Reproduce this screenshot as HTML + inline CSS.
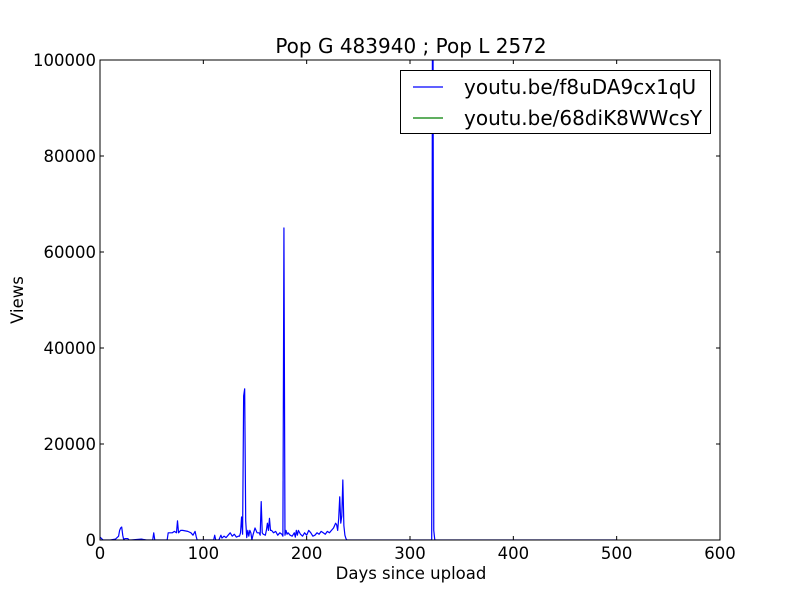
<!DOCTYPE html>
<html><head><meta charset="utf-8"><style>
body{margin:0;background:#fff;}
svg{display:block;font-family:"DejaVu Sans","Liberation Sans",sans-serif;}
</style></head><body>
<svg id="chart" width="800" height="600"></svg>
<script>
const blueDays = [0,1,2,3,5,10,15,18,19,20,21,22,23,24,27,28,30,40,42,45,50,51,52,53,55,65,66,70,72,74,75,76,78,80,85,88,90,92,93,94,96,105,108,110,111,112,115,117,118,120,122,124,126,128,130,132,134,135,136,137,138,139,140,141,142,143,144,145,146,147,148,150,152,154,155,156,157,158,160,161,162,163,164,165,166,168,170,172,174,176,177,178,179,180,181,182,184,186,188,189,190,191,192,194,196,198,200,202,204,206,208,210,212,214,216,218,220,222,224,226,227,228,229,230,231,232,233,234,235,236,237,238,239,240,245,300,320,321,322,323,324,325,330,400,500];
const blueValues = [600,400,200,0,0,0,200,800,2000,2500,2700,1000,0,300,300,0,0,200,100,0,0,0,1500,0,0,0,1500,1500,1800,1500,4000,1500,2000,2000,1800,1500,1000,1800,800,0,0,0,0,0,1000,0,0,1000,400,800,500,1000,1500,800,1200,600,800,800,1500,4800,1200,30000,31500,4000,500,2000,800,2000,1500,0,1000,2500,1500,1500,1000,8000,1500,1200,1000,2000,3500,2000,4500,2000,2000,1500,1800,1000,1500,1200,800,65000,1000,2000,1200,1500,1000,800,1500,600,2000,1000,2000,1200,800,1500,1000,2000,1500,800,1000,1500,1200,1800,1500,1200,1800,1500,2000,2500,3000,3500,3200,2000,4500,9000,3500,5000,12500,3000,1000,300,0,0,0,0,0,0,150000,2000,0,0,0,0,0];
const greenDays = [0,505];
const greenValues = [0,0];
const xTicks = [0,100,200,300,400,500,600];
const yTicks = [0,20000,40000,60000,80000,100000];

const svg = document.getElementById('chart');
const NS = 'http://www.w3.org/2000/svg';
const L=100,R=720,T=60,B=540;
const xs = d => L + (d/600)*(R-L);
const ys = v => B - (v/100000)*(B-T);
function mk(tag, attrs, parent){const e=document.createElementNS(NS,tag);for(const k in attrs)e.setAttribute(k,attrs[k]);(parent||svg).appendChild(e);return e;}

const clip = mk('clipPath',{id:'pc'});
mk('rect',{x:L,y:T,width:R-L,height:B-T},clip);

const g = mk('g',{'clip-path':'url(#pc)'});


const gl = mk('polyline',{points:greenDays.map((d,i)=>xs(d)+','+ys(greenValues[i])).join(' '),fill:'none',stroke:'#007f00','stroke-width':1},g);


const bl = mk('polyline',{points:blueDays.map((d,i)=>xs(d)+','+ys(blueValues[i])).join(' '),fill:'none',stroke:'#0000ff','stroke-width':1.2,'stroke-linejoin':'round'},g);



const frame = mk('rect',{x:L,y:T,width:R-L,height:B-T,fill:'none',stroke:'#000','stroke-width':1});



xTicks.forEach(t=>{
  const x=xs(t);
  mk('line',{x1:x,x2:x,y1:B,y2:B-4,stroke:'#000'});
  mk('line',{x1:x,x2:x,y1:T,y2:T+4,stroke:'#000'});
  const tx=mk('text',{x:x,y:B+19,'text-anchor':'middle','font-size':16.5});
  tx.textContent=t;
  
  
});
yTicks.forEach(t=>{
  const y=ys(t);
  mk('line',{x1:L,x2:L+4,y1:y,y2:y,stroke:'#000'});
  mk('line',{x1:R,x2:R-4,y1:y,y2:y,stroke:'#000'});
  const tx=mk('text',{x:L-4,y:y+6,'text-anchor':'end','font-size':16.5});
  tx.textContent=t;
  
  
});

const title=mk('text',{x:411,y:53,'text-anchor':'middle','font-size':20});
title.textContent='Pop G 483940 ; Pop L 2572';


const xl=mk('text',{x:411,y:579,'text-anchor':'middle','font-size':16.5});
xl.textContent='Days since upload';


const yl=mk('text',{x:23,y:300,'text-anchor':'middle','font-size':16.5,transform:'rotate(-90 23 300)'});
yl.textContent='Views';



const leg=mk('g',{});


mk('rect',{x:400.5,y:70.5,width:310,height:63,fill:'#fff',stroke:'#000'},leg);
const names=['youtu.be/f8uDA9cx1qU','youtu.be/68diK8WWcsY'];
const cols=['#0000ff','#007f00'];
names.forEach((n,i)=>{
  const y=87+i*31;
  const e=mk('g',{},leg);
  
  
  mk('line',{x1:413,x2:443,y1:y,y2:y,stroke:cols[i],'stroke-width':1.2},e);
  const t=mk('text',{x:464,y:y+7,'font-size':20},e);
  t.textContent=n;
});
</script>
</body></html>
